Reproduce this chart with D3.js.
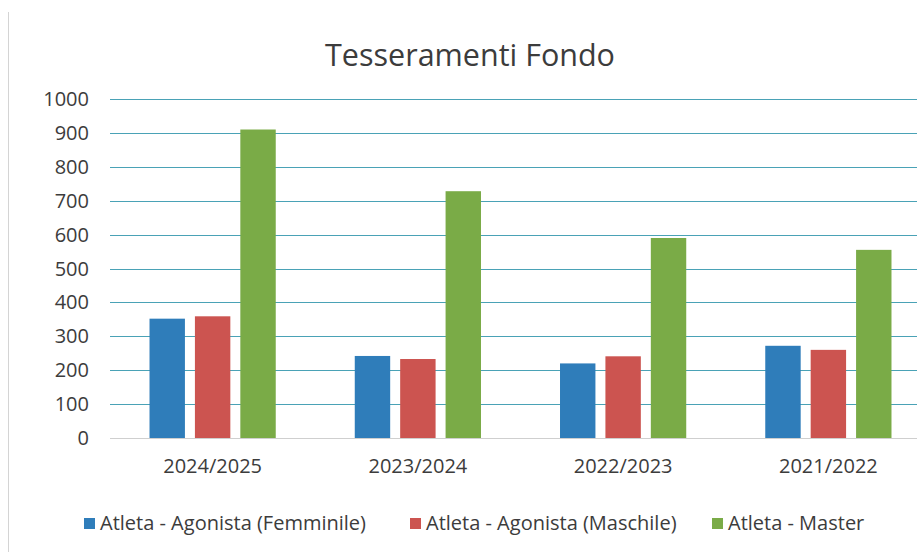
<!DOCTYPE html>
<html>
<head>
<meta charset="utf-8">
<script src="https://cdn.jsdelivr.net/npm/d3@7"></script>
<style>
  body { margin: 0; background: #fff; }
  text { font-family: "Open Sans", sans-serif; fill: #3c3c3c; }
</style>
</head>
<body>
<svg></svg>
<script>
const stagioni = ['2024/2025', '2023/2024', '2022/2023', '2021/2022'];
const serie = ['Atleta - Agonista (Femminile)', 'Atleta - Agonista (Maschile)', 'Atleta - Master'];
const femminile = [352, 242, 220, 272];
const maschile = [359, 233, 241, 260];
const master = [910, 728, 590, 555];
const colori = ['#2f7dba', '#cc5450', '#7aab47'];
const yTicks = [0, 100, 200, 300, 400, 500, 600, 700, 800, 900, 1000];

const width = 917;
const height = 556;
const valori = [femminile, maschile, master];

const svg = d3.select('svg')
  .attr('width', width)
  .attr('height', height);

// cornice sinistra del grafico
svg.append('line')
  .attr('x1', 8.5).attr('x2', 8.5)
  .attr('y1', 12).attr('y2', 552)
  .attr('stroke', '#d4d4d4')
  .attr('stroke-width', 1);

const x0 = d3.scaleBand()
  .domain(stagioni)
  .range([110, 931])
  .paddingInner(0.385)
  .paddingOuter(0.1925);

const x1 = d3.scaleBand()
  .domain(serie)
  .range([0, x0.bandwidth()])
  .paddingInner(0.22);

const y = d3.scaleLinear()
  .domain([0, 1000])
  .range([438, 99]);

// griglia
svg.append('g')
  .selectAll('line')
  .data(yTicks.filter(d => d > 0))
  .enter().append('line')
  .attr('x1', 110)
  .attr('x2', width)
  .attr('y1', d => Math.round(y(d)) + 0.5)
  .attr('y2', d => Math.round(y(d)) + 0.5)
  .attr('stroke', '#4aa2b6')
  .attr('stroke-width', 1.2);

svg.append('line')
  .attr('x1', 110).attr('x2', width)
  .attr('y1', y(0) + 0.5).attr('y2', y(0) + 0.5)
  .attr('stroke', '#cfcfcf')
  .attr('stroke-width', 1.2);

// etichette asse y
svg.append('g')
  .selectAll('text')
  .data(yTicks)
  .enter().append('text')
  .attr('x', 89)
  .attr('y', d => y(d))
  .attr('dy', '0.35em')
  .attr('text-anchor', 'end')
  .style('font-size', '20px')
  .text(d => d);

// barre
const gruppi = svg.append('g')
  .selectAll('g')
  .data(stagioni)
  .enter().append('g')
  .attr('transform', d => `translate(${x0(d)},0)`);

gruppi.selectAll('rect')
  .data((d, i) => serie.map((s, j) => ({ serie: s, valore: valori[j][i], colore: colori[j] })))
  .enter().append('rect')
  .attr('x', d => x1(d.serie))
  .attr('y', d => y(d.valore))
  .attr('width', x1.bandwidth())
  .attr('height', d => y(0) - y(d.valore))
  .attr('fill', d => d.colore);

// etichette asse x
svg.append('g')
  .selectAll('text')
  .data(stagioni)
  .enter().append('text')
  .attr('x', d => x0(d) + x0.bandwidth() / 2)
  .attr('y', 466)
  .attr('dy', '0.35em')
  .attr('text-anchor', 'middle')
  .style('font-size', '20px')
  .text(d => d);

// titolo
svg.append('text')
  .attr('x', 470)
  .attr('y', 55)
  .attr('dy', '0.35em')
  .attr('text-anchor', 'middle')
  .style('font-size', '30.5px')
  .text('Tesseramenti Fondo');

// legenda
const legendaX = [84, 410, 712];
const legenda = svg.append('g')
  .selectAll('g')
  .data(serie)
  .enter().append('g')
  .attr('transform', (d, i) => `translate(${legendaX[i]},523)`);

legenda.append('rect')
  .attr('x', 0)
  .attr('y', -5)
  .attr('width', 11)
  .attr('height', 11)
  .attr('fill', (d, i) => colori[i]);

legenda.append('text')
  .attr('x', 16)
  .attr('y', 0)
  .attr('dy', '0.35em')
  .style('font-size', '20px')
  .text(d => d);
</script>
</body>
</html>
